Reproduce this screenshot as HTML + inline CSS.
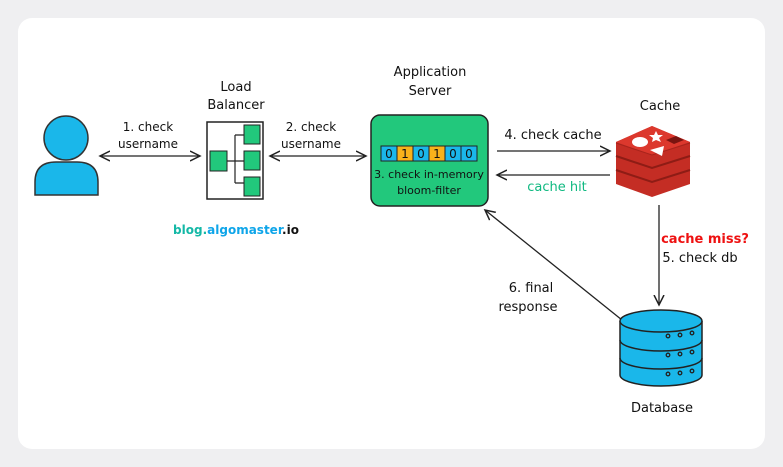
<!DOCTYPE html>
<html><head><style>
html,body{margin:0;padding:0;background:#efeff1;}
svg{display:block;font-family:"DejaVu Sans","Liberation Sans",sans-serif;}
</style></head><body>
<svg width="783" height="467" viewBox="0 0 783 467" xmlns="http://www.w3.org/2000/svg">
<defs>
<marker id="a" markerWidth="12" markerHeight="12" refX="10" refY="6" orient="auto-start-reverse" markerUnits="userSpaceOnUse">
<path d="M0,1 L10,6 L0,11" fill="none" stroke="#222" stroke-width="1.5"/>
</marker>
</defs>
<rect x="18" y="18" width="747" height="431" rx="14" fill="#fff"/>
<!-- user -->
<circle cx="66" cy="138" r="22" fill="#1ab7ea" stroke="#333" stroke-width="1.5"/>
<path d="M35,195 L35,182 Q35,162 56,162 L77,162 Q98,162 98,182 L98,195 Z" fill="#1ab7ea" stroke="#333" stroke-width="1.5"/>
<!-- LB -->
<text x="236" y="91" font-size="13" text-anchor="middle" fill="#111">Load</text>
<text x="236" y="109" font-size="13" text-anchor="middle" fill="#111">Balancer</text>
<rect x="207" y="122" width="56" height="77" fill="#fff" stroke="#222" stroke-width="1.5"/>
<path d="M227,161 L235,161 M235,135 L235,183 M235,135 L244,135 M235,161 L244,161 M235,183 L244,183" stroke="#222" stroke-width="1.2" fill="none"/>
<rect x="210" y="151" width="17" height="20" fill="#22c87c" stroke="#222"/>
<rect x="244" y="125" width="16" height="19" fill="#22c87c" stroke="#222"/>
<rect x="244" y="151" width="16" height="19" fill="#22c87c" stroke="#222"/>
<rect x="244" y="177" width="16" height="19" fill="#22c87c" stroke="#222"/>
<text x="236" y="234" font-size="12" font-weight="bold" text-anchor="middle"><tspan fill="#14b8a6">blog.</tspan><tspan fill="#0ea5e9">algomaster</tspan><tspan fill="#111">.io</tspan></text>
<!-- arrows -->
<line x1="100" y1="156" x2="200" y2="156" stroke="#222" stroke-width="1.3" marker-start="url(#a)" marker-end="url(#a)"/>
<text x="148" y="131" font-size="12" text-anchor="middle" fill="#111">1. check</text>
<text x="148" y="148" font-size="12" text-anchor="middle" fill="#111">username</text>
<line x1="270" y1="156" x2="366" y2="156" stroke="#222" stroke-width="1.3" marker-start="url(#a)" marker-end="url(#a)"/>
<text x="311" y="131" font-size="12" text-anchor="middle" fill="#111">2. check</text>
<text x="311" y="148" font-size="12" text-anchor="middle" fill="#111">username</text>
<!-- app server -->
<text x="430" y="76" font-size="13" text-anchor="middle" fill="#111">Application</text>
<text x="430" y="95" font-size="13" text-anchor="middle" fill="#111">Server</text>
<rect x="371" y="115" width="117" height="91" rx="9" fill="#22c87c" stroke="#222" stroke-width="1.5"/>
<g font-size="12" text-anchor="middle" fill="#111">
<rect x="381" y="146" width="16" height="15" fill="#1ab7ea" stroke="#222"/><text x="389" y="158">0</text>
<rect x="397" y="146" width="16" height="15" fill="#f8b21b" stroke="#222"/><text x="405" y="158">1</text>
<rect x="413" y="146" width="16" height="15" fill="#1ab7ea" stroke="#222"/><text x="421" y="158">0</text>
<rect x="429" y="146" width="16" height="15" fill="#f8b21b" stroke="#222"/><text x="437" y="158">1</text>
<rect x="445" y="146" width="16" height="15" fill="#1ab7ea" stroke="#222"/><text x="453" y="158">0</text>
<rect x="461" y="146" width="16" height="15" fill="#1ab7ea" stroke="#222"/><text x="469" y="158">0</text>
</g>
<text x="429" y="178" font-size="11" text-anchor="middle" fill="#111">3. check in-memory</text>
<text x="429" y="194" font-size="11" text-anchor="middle" fill="#111">bloom-filter</text>
<!-- cache arrows -->
<line x1="497" y1="151" x2="610" y2="151" stroke="#222" stroke-width="1.3" marker-end="url(#a)"/>
<text x="553" y="139" font-size="13" text-anchor="middle" fill="#111">4. check cache</text>
<line x1="610" y1="175" x2="497" y2="175" stroke="#222" stroke-width="1.3" marker-end="url(#a)"/>
<text x="557" y="191" font-size="13" text-anchor="middle" fill="#10b981">cache hit</text>
<!-- cache -->
<text x="660" y="110" font-size="13" text-anchor="middle" fill="#111">Cache</text>
<g>
<path d="M616,142 L652,126 L690,142 L690,184 L652,197 L616,184 Z" fill="#c42d24"/>
<path d="M616,142 L652,126 L690,142 L652,155 Z" fill="#dc382d"/>
<path d="M616,156 L652,168 L690,156" fill="none" stroke="#8e1c15" stroke-width="2"/>
<path d="M616,170 L652,182 L690,170" fill="none" stroke="#8e1c15" stroke-width="2"/>
<path d="M616,143 L652,155 L690,143" fill="none" stroke="#a8241c" stroke-width="1"/>
<ellipse cx="640" cy="142" rx="8" ry="5" fill="#fff"/>
<path d="M650,150 L664,146 L662,156 Z" fill="#fff"/>
<path d="M656,131 l2,4 5,0 -4,3 2,4 -5,-2 -4,2 1,-4 -4,-3 5,0z" fill="#fff"/>
<path d="M666,140 L676,136 L684,140 L674,144 Z" fill="#7a1410"/>
</g>
<!-- cache to db -->
<line x1="659" y1="205" x2="659" y2="305" stroke="#222" stroke-width="1.3" marker-end="url(#a)"/>
<text x="705" y="243" font-size="13" text-anchor="middle" fill="#e11" font-weight="bold">cache miss?</text>
<text x="700" y="262" font-size="13" text-anchor="middle" fill="#111">5. check db</text>
<!-- db to app -->
<line x1="622" y1="320" x2="485" y2="210" stroke="#222" stroke-width="1.3" marker-end="url(#a)"/>
<text x="531" y="292" font-size="13" text-anchor="middle" fill="#111">6. final</text>
<text x="528" y="311" font-size="13" text-anchor="middle" fill="#111">response</text>
<!-- db -->
<g stroke="#222" stroke-width="1.5" fill="#1ab7ea">
<path d="M620,321 L620,375 A41,11 0 0 0 702,375 L702,321"/>
<path d="M620,340 A41,11 0 0 0 702,340 M620,358 A41,11 0 0 0 702,358" fill="none"/>
<ellipse cx="661" cy="321" rx="41" ry="11"/>
<g fill="none" stroke-width="1.3">
<circle cx="668" cy="336" r="1.8"/><circle cx="680" cy="335" r="1.8"/><circle cx="692" cy="333" r="1.8"/>
<circle cx="668" cy="355" r="1.8"/><circle cx="680" cy="354" r="1.8"/><circle cx="692" cy="352" r="1.8"/>
<circle cx="668" cy="374" r="1.8"/><circle cx="680" cy="373" r="1.8"/><circle cx="692" cy="371" r="1.8"/>
</g>
</g>
<text x="662" y="412" font-size="13" text-anchor="middle" fill="#111">Database</text>
</svg>
</body></html>
